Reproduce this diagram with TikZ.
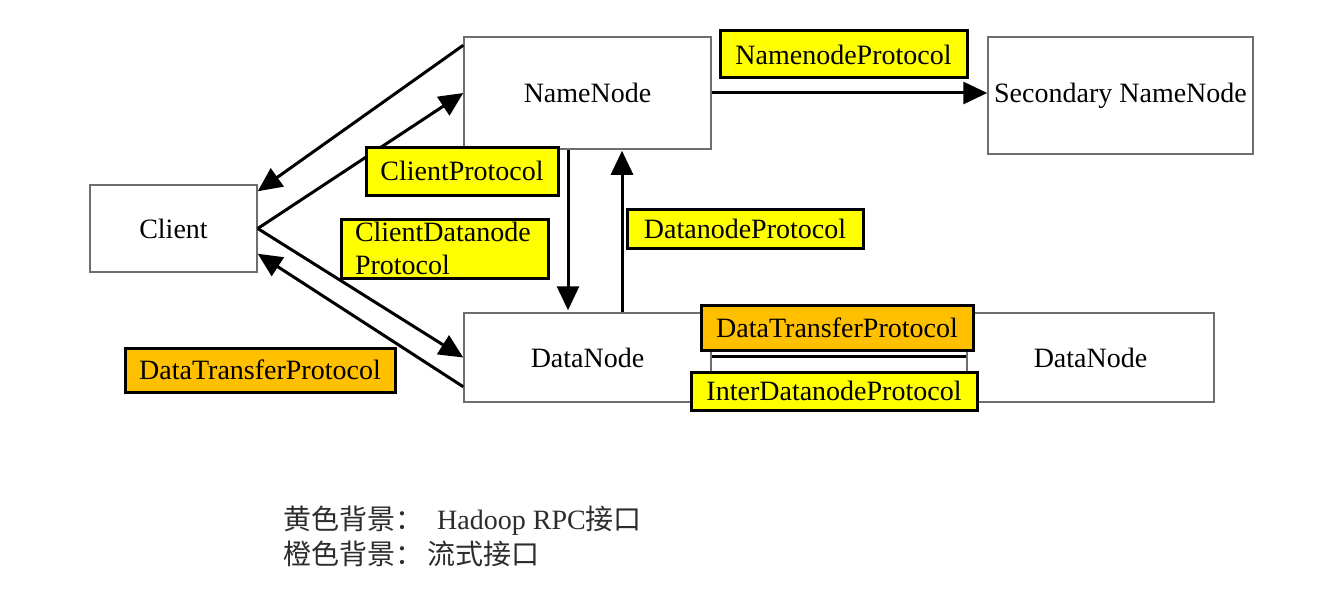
\documentclass[tikz,border=0pt]{standalone}
\usepackage{fontspec}
\setmainfont{Liberation Serif}
\newfontfamily\cjk{Noto Sans CJK SC}
\usetikzlibrary{arrows.meta,calc}
\definecolor{labyellow}{RGB}{255,255,0}
\definecolor{laborange}{RGB}{255,192,0}
\definecolor{boxline}{RGB}{110,110,110}
\definecolor{legendtext}{RGB}{45,45,45}
\begin{document}
\begin{tikzpicture}[x=1pt,y=-1pt,
  box/.style={draw=boxline, line width=1.5pt, fill=white, inner sep=0pt,
    font=\fontsize{28}{33}\selectfont},
  lab/.style={draw=black, line width=3pt, fill=labyellow, inner sep=0pt,
    font=\fontsize{28}{33}\selectfont},
  orangelab/.style={lab, fill=laborange},
  arr/.style={line width=3pt, -{Triangle[length=24pt,width=22pt]}},
  plainline/.style={line width=3pt},
  legend/.style={anchor=west, inner sep=0pt, text=legendtext,
    font=\fontsize{28}{33}\selectfont}]
\useasboundingbox (0,0) rectangle (1343,591);
\fill[white] (0,0) rectangle (1343,591);

% main boxes
\node[box, minimum width=167pt, minimum height=87pt] (cl) at (173.5,228.5) {Client};
\node[box, minimum width=247pt, minimum height=112pt] (nn) at (587.5,93) {NameNode};
\node[box, minimum width=265pt, minimum height=117pt] (sec) at (1120.5,95.5) {Secondary NameNode};
\node[box, minimum width=247pt, minimum height=89pt] (dn1) at (587.5,357.5) {DataNode};
\node[box, minimum width=247pt, minimum height=89pt] (dn2) at (1090.5,357.5) {DataNode};

% connectors
\draw[arr] ([yshift=-9pt]nn.north west) -- ([yshift=-7pt]cl.north east);
\draw[arr] (cl.east) -- (nn.west);
\draw[arr] (cl.east) -- (dn1.west);
\draw[arr] ([yshift=16pt]dn1.south west) -- ([yshift=19pt]cl.south east);
\draw[arr] ([xshift=-19.5pt]nn.south) -- ([xshift=-19.5pt,yshift=2pt]dn1.north);
\draw[arr] ([xshift=34.5pt]dn1.north) -- ([xshift=34.5pt,yshift=-1pt]nn.south);
\draw[arr] (nn.east) -- (nn.east -| sec.west);
\draw[plainline] ([yshift=1.5pt]dn1.east) -- ([yshift=1.5pt]dn2.west);

% protocol labels
\node[lab, minimum width=247pt, minimum height=47pt] (lnp) at (843.5,54.5) {NamenodeProtocol};
\node[lab, minimum width=192pt, minimum height=48pt] (lcp) at (462,171) {ClientProtocol};
\node[lab, minimum width=207pt, minimum height=59pt, align=left, text width=179pt] (lcdp) at (444.5,248.5) {ClientDatanode\\Protocol};
\node[lab, minimum width=236pt, minimum height=39pt] (ldp) at (745,228.5) {DatanodeProtocol};
\node[orangelab, minimum width=270pt, minimum height=44pt] (ldt1) at (260,370) {DataTransferProtocol};
\node[orangelab, minimum width=272pt, minimum height=45pt] (ldt2) at (837,327.5) {DataTransferProtocol};
\node[lab, minimum width=286pt, minimum height=38pt] (lidp) at (834,391) {InterDatanodeProtocol};

% legend
\node[legend] (leg1) at (283,521) {{\cjk 黄色背景：}\hspace{14pt}Hadoop RPC{\cjk 接口}};
\node[legend] (leg2) at (283,554) {{\cjk 橙色背景：}\hspace{4pt}{\cjk 流式接口}};
\end{tikzpicture}
\end{document}
